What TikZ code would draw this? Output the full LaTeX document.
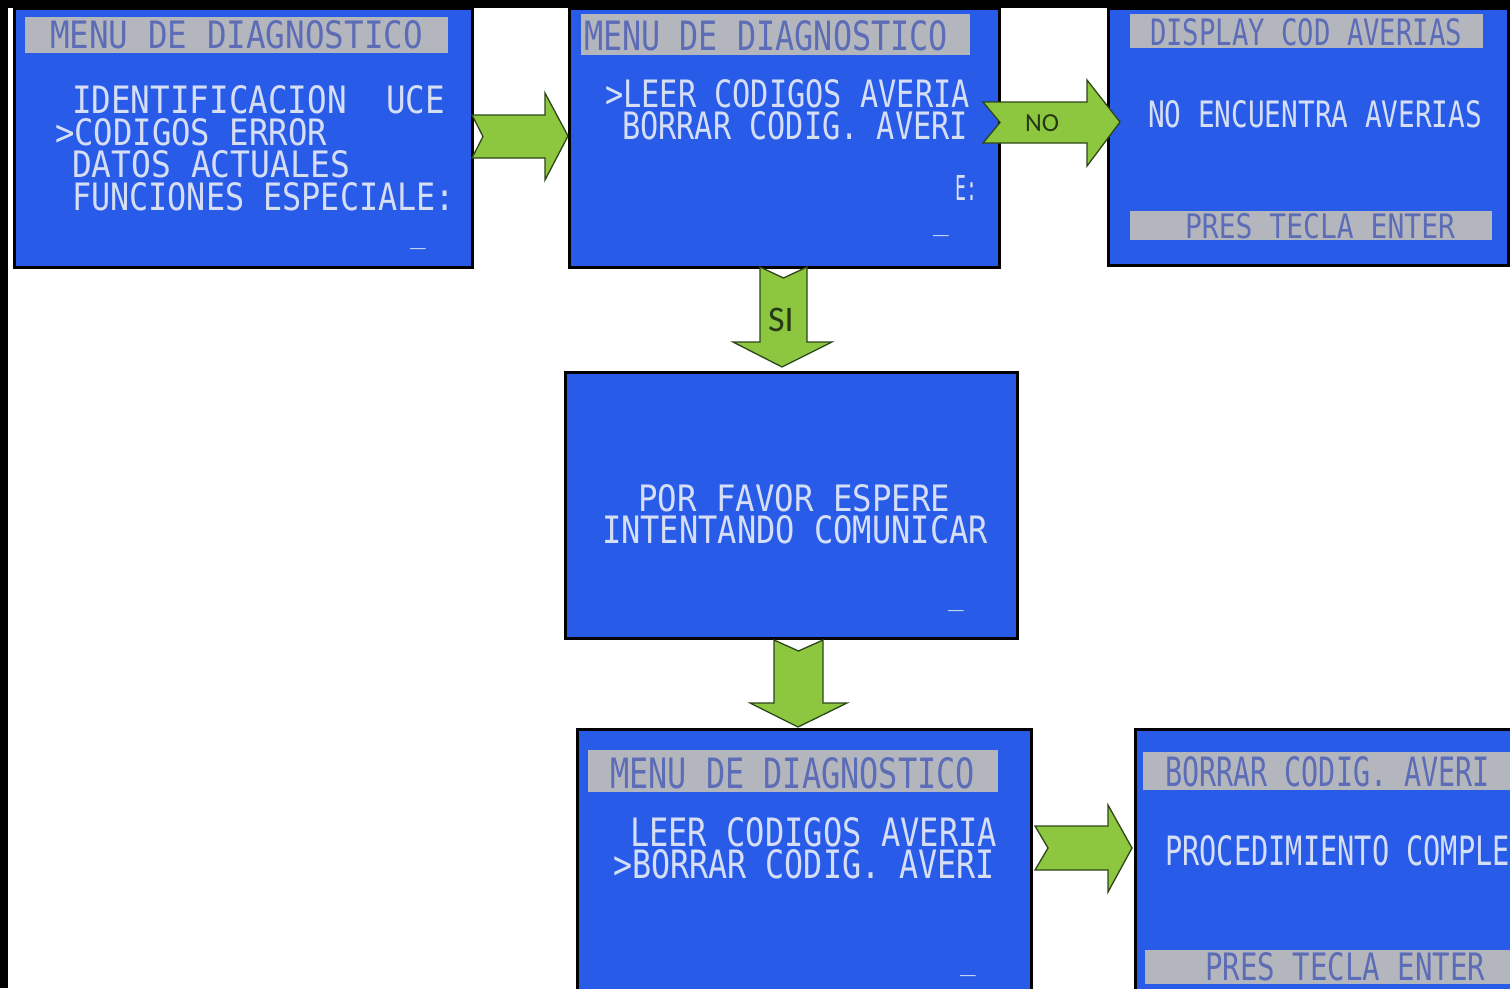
\documentclass[tikz,border=0pt]{standalone}
\usepackage{fontspec}
\usepackage{graphicx}
\newfontfamily\lcdfont{DejaVu Sans Mono}
\newfontfamily\lblfont{Carlito}
\definecolor{lcdblue}{RGB}{40,92,232}
\definecolor{lcdtext}{RGB}{214,222,246}
\definecolor{barfill}{RGB}{180,182,190}
\definecolor{bartext}{RGB}{92,108,182}
\definecolor{arrowgreen}{RGB}{141,198,63}
\definecolor{arrowline}{RGB}{45,70,25}
\newcommand\lcdline[3]{\resizebox{#1pt}{#2pt}{\lcdfont #3}}
\tikzset{
  screen/.style={draw=black, line width=3pt, fill=lcdblue, inner sep=0pt, outer sep=0pt, anchor=north west},
  lcd/.style={anchor=base west, inner sep=0pt, outer sep=0pt, text=lcdtext},
  bartxt/.style={anchor=base west, inner sep=0pt, outer sep=0pt, text=bartext},
  bar/.style={fill=barfill},
  cursor/.style={anchor=base west, inner sep=0pt, text=lcdtext, font=\fontsize{26}{26}\lcdfont},
  garrow/.style={fill=arrowgreen, draw=arrowline, line width=1.3pt, line join=miter},
  arrlabel/.style={inner sep=0pt, text=arrowline!80!black, font=\lblfont}
}
\begin{document}
\begin{tikzpicture}[x=1pt, y=-1pt]
\useasboundingbox (0,0) rectangle (1510,988);
\clip (0,0) rectangle (1510,988);
\fill[white] (0,0) rectangle (1510,988);
% black frame strips
\fill[black] (0,0) rectangle (1510,8);
\fill[black] (0,0) rectangle (8,988);

% ---------- Screen A ----------
\node[screen, minimum width=458pt, minimum height=259pt] (A) at (14,8) {};
\fill[bar] (25,17) rectangle (448,53);
\node[bartxt] (Ah) at (50,48) {\lcdline{373}{28}{MENU DE DIAGNOSTICO}};
\node[lcd] (A1) at (72,113) {\lcdline{373}{28}{IDENTIFICACION~~UCE}};
\node[lcd] (A2) at (55,145) {\lcdline{272}{27}{>CODIGOS ERROR}};
\node[lcd] (A3) at (72,177) {\lcdline{278}{27}{DATOS ACTUALES}};
\node[lcd] (A4) at (72,210) {\lcdline{383}{28}{FUNCIONES ESPECIALE:}};
\node[cursor] (Ac) at (410,243) {\_};

% ---------- Screen B ----------
\node[screen, minimum width=430pt, minimum height=259pt] (B) at (569,8) {};
\fill[bar] (581,14) rectangle (970,55);
\node[bartxt] (Bh) at (584,50) {\lcdline{364}{30}{MENU DE DIAGNOSTICO}};
\node[lcd] (B1) at (605,107) {\lcdline{365}{28}{>LEER CODIGOS AVERIA}};
\node[lcd] (B2) at (622,139) {\lcdline{346}{28}{BORRAR CODIG. AVERI}};
\node[lcd] (B3) at (955,200) {\lcdline{22}{25}{E:}};
\node[cursor] (Bc) at (933,230) {\_};

% ---------- Screen C ----------
\node[screen, minimum width=400pt, minimum height=257pt] (C) at (1108,8) {};
\fill[bar] (1130,14) rectangle (1483,48);
\node[bartxt] (Ch) at (1150,45) {\lcdline{312}{27}{DISPLAY COD AVERIAS}};
\node[lcd] (C1) at (1148,127) {\lcdline{334}{27}{NO ENCUENTRA AVERIAS}};
\fill[bar] (1130,211) rectangle (1492,240);
\node[bartxt] (C2) at (1185,238) {\lcdline{270}{25}{PRES TECLA ENTER}};

% ---------- Screen D ----------
\node[screen, minimum width=452pt, minimum height=266pt] (D) at (565,372) {};
\node[lcd] (D1) at (638,511) {\lcdline{312}{27}{POR FAVOR ESPERE}};
\node[lcd] (D2) at (602,543) {\lcdline{386}{28}{INTENTANDO COMUNICAR}};
\node[cursor] (Dc) at (948,605) {\_};

% ---------- Screen E ----------
\node[screen, minimum width=454pt, minimum height=280pt] (E) at (577,729) {};
\fill[bar] (588,750) rectangle (998,792);
\node[bartxt] (Eh) at (610,788) {\lcdline{365}{31}{MENU DE DIAGNOSTICO}};
\node[lcd] (E1) at (630,846) {\lcdline{367}{29}{LEER CODIGOS AVERIA}};
\node[lcd] (E2) at (613,878) {\lcdline{382}{29}{>BORRAR CODIG. AVERI}};
\node[cursor] (Ec) at (960,970) {\_};

% ---------- Screen F ----------
\node[screen, minimum width=380pt, minimum height=280pt] (F) at (1135,729) {};
\fill[bar] (1143,752) rectangle (1515,790);
\node[bartxt] (Fh) at (1165,786) {\lcdline{325}{30}{BORRAR CODIG. AVERI}};
\node[lcd] (F1) at (1165,865) {\lcdline{345}{30}{PROCEDIMIENTO COMPLE}};
\fill[bar] (1145,950) rectangle (1515,984);
\node[bartxt] (F2) at (1205,980) {\lcdline{280}{28}{PRES TECLA ENTER}};

% ---------- Arrows ----------
% A -> B
\draw[garrow] (472,115) -- (545,115) -- (545,93) -- (568,136) -- (545,180) -- (545,158) -- (472,158) -- (483,136.5) -- cycle;
% B -> C (NO)
\draw[garrow] (983,102) -- (1087,102) -- (1087,80) -- (1120,122) -- (1087,166) -- (1087,143) -- (983,143) -- (1000,122.5) -- cycle;
\node[arrlabel, font=\fontsize{26}{26}\lblfont] (NO) at (1042,123) {NO};
% B -> D (SI)
\draw[garrow] (760,267) -- (783.5,278) -- (807,267) -- (807,342) -- (832,342) -- (782,367) -- (733,342) -- (760,342) -- cycle;
\node[arrlabel, font=\fontsize{36}{36}\lblfont] (SI) at (781,320) {SI};
% D -> E
\draw[garrow] (774,640) -- (798.5,651) -- (823,640) -- (823,703) -- (847,703) -- (798,727) -- (750,703) -- (774,703) -- cycle;
% E -> F
\draw[garrow] (1035,826) -- (1108,826) -- (1108,805) -- (1132,848) -- (1108,892) -- (1108,870) -- (1035,870) -- (1048,848) -- cycle;
\end{tikzpicture}
\end{document}
